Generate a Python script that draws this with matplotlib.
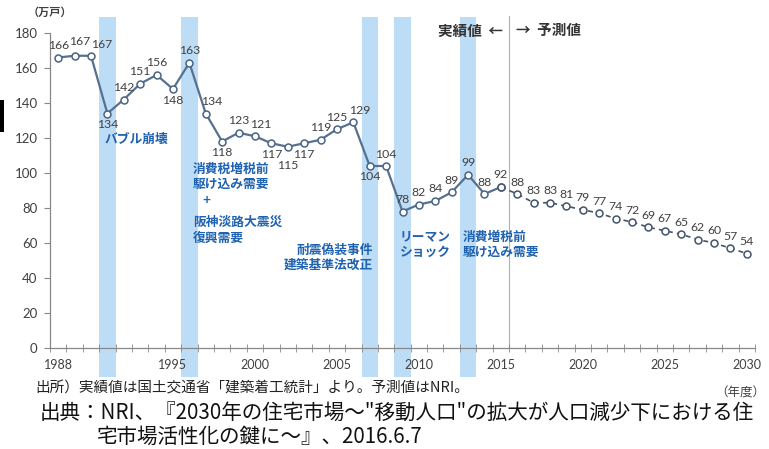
import matplotlib
matplotlib.use("Agg")
import matplotlib.pyplot as plt
from matplotlib.patches import Rectangle

plt.rcParams['font.family'] = ['Lato', 'Noto Sans CJK JP', 'DejaVu Sans']

# data (万戸, fiscal year)
years = list(range(1988, 2031))
starts = [166, 167, 167, 134, 142, 151, 156, 148, 163, 134,
          118, 123, 121, 117, 115, 117, 119, 125, 129, 104,
          104, 78, 82, 84, 89, 99, 88, 92, 88, 83,
          83, 81, 79, 77, 74, 72, 69, 67, 65, 62,
          60, 57, 54]
last_actual = 2015
shaded_years = [1991, 1996, 2007, 2009, 2013]
tick_years = [1988, 1995, 2000, 2005, 2010, 2015, 2020, 2025, 2030]
yticks = list(range(0, 181, 20))

# label placement: a=above, ar=above right, b=below, bb=further below
label_pos = ['a', 'ar1', 'ar2', 'b', 'a', 'a', 'a', 'b', 'a', 'ar',
             'b', 'a', 'ar', 'b', 'bb', 'b', 'a', 'a', 'ar', 'b',
             'a'] + ['a'] * 22
offsets = {'a': (0, 12), 'ar': (6, 12), 'ar1': (5, 14), 'ar2': (11, 11),
           'b': (0, -11), 'bb': (0, -19)}

blue_txt = '#1f62b0'
num_col = '#404040'

fig = plt.figure(figsize=(7.69, 4.49), dpi=100)
ax = fig.add_axes([50 / 769, 1 - 348 / 449, 705 / 769, 315 / 449])

x = list(range(len(years)))
split = years.index(last_actual)

# shaded event bands, running past the plot area like in the source
for yr in shaded_years:
    i = years.index(yr)
    ax.add_patch(Rectangle((i - 0.5, -16.5), 1.0, 205.5, facecolor='#bddcf6',
                           edgecolor='none', zorder=0, clip_on=False))

# actual / forecast divider
ax.plot([split + 0.5, split + 0.5], [0, 190], color='#b0b0b0', lw=0.8,
        zorder=1, clip_on=False)

ax.plot(x[:split + 1], starts[:split + 1], color='#56708f', lw=1.6,
        marker='o', ms=5, mfc='white', mec='#4a6482', mew=1.1, zorder=3)
ax.plot(x[split:], starts[split:], color='#44546a', lw=1.2, ls=(0, (3, 2.5)),
        marker='o', ms=5, mfc='white', mec='#44546a', mew=1.1, zorder=3)

for i, v in enumerate(starts):
    dx, dy = offsets[label_pos[i]]
    ax.annotate(str(v), (i, v), xytext=(dx, dy), textcoords='offset pixels',
                ha='center', va='center', fontsize=8.8, color=num_col, zorder=4)

ax.set_xlim(-0.5, len(years) - 0.5)
ax.set_ylim(0, 180)
ax.set_yticks(yticks)
ax.set_xticks([years.index(t) for t in tick_years])
ax.set_xticklabels([str(t) for t in tick_years])
ax.set_xticks([i - 0.5 for i in range(len(years) + 1)], minor=True)
ax.tick_params(axis='x', which='major', length=0, pad=8, labelsize=9, labelcolor=num_col)
ax.tick_params(axis='x', which='minor', direction='inout', length=6, color='#888888')
ax.tick_params(axis='y', length=4, color='#888888', labelsize=9.5, labelcolor=num_col, pad=5)
for s in ['top', 'right']:
    ax.spines[s].set_visible(False)
for s in ['left', 'bottom']:
    ax.spines[s].set_color('#888888')
    ax.spines[s].set_linewidth(0.9)

# event notes
cjk = ['Noto Sans CJK JP', 'DejaVu Sans']
ax.text(2.85, 119, 'バブル崩壊', ha='left', va='center', fontsize=9.2,
        fontweight='bold', color=blue_txt, family=cjk)
ax.text(8.2, 106, '消費税増税前\n駆け込み需要', ha='left', va='top', fontsize=9.2,
        fontweight='bold', color=blue_txt, family=cjk, linespacing=1.25)
ax.text(9.05, 84.5, '+', ha='center', va='center', fontsize=10,
        fontweight='bold', color=blue_txt)
ax.text(8.2, 75.5, '阪神淡路大震災\n復興需要', ha='left', va='top', fontsize=9.2,
        fontweight='bold', color=blue_txt, family=cjk, linespacing=1.25)
ax.text(19.2, 51.5, '耐震偽装事件\n建築基準法改正', ha='right', va='center',
        multialignment='right', fontsize=9.2, fontweight='bold', color=blue_txt,
        family=cjk, linespacing=1.25)
ax.text(20.85, 59, 'リーマン\nショック', ha='left', va='center', fontsize=9.2,
        fontweight='bold', color=blue_txt, family=cjk, linespacing=1.25)
ax.text(24.7, 59, '消費増税前\n駆け込み需要', ha='left', va='center', fontsize=9.2,
        fontweight='bold', color=blue_txt, family=cjk, linespacing=1.25)

ax.annotate('実績値  ←', (split + 0.5, 181.5), xytext=(-6, 0), textcoords='offset pixels',
            ha='right', va='center', fontsize=10.5, fontweight='bold', color='#333333',
            family=cjk, annotation_clip=False)
ax.annotate('→  予測値', (split + 0.5, 181.5), xytext=(7, 0), textcoords='offset pixels',
            ha='left', va='center', fontsize=10.5, fontweight='bold', color='#333333',
            family=cjk, annotation_clip=False)

fig.text(28 / 769, 1 - 12 / 449, '（万戸）', ha='left', va='center', fontsize=8,
         fontweight='bold', color='#404040', family=cjk)
fig.text(765 / 769, 1 - 393 / 449, '（年度）', ha='right', va='center', fontsize=9,
         color='#404040', family=cjk)
fig.text(35 / 769, 1 - 388 / 449, '出所）実績値は国土交通省「建築着工統計」より。予測値はNRI。',
         ha='left', va='center', fontsize=10.5, color='#222222', family=cjk)
fig.text(40 / 769, 1 - 413 / 449,
         '出典：NRI、『2030年の住宅市場～"移動人口"の拡大が人口減少下における住',
         ha='left', va='center', fontsize=14.8, color='#111111', family=cjk)
fig.text(97 / 769, 1 - 437 / 449, '宅市場活性化の鍵に～』、2016.6.7',
         ha='left', va='center', fontsize=14.8, color='#111111', family=cjk)

# dark bar at the left edge of the source screenshot
fig.patches.append(Rectangle((0, 1 - 132 / 449), 4 / 769, 32 / 449,
                             transform=fig.transFigure, facecolor='black',
                             edgecolor='none'))

fig.savefig('out.png', dpi=100)
